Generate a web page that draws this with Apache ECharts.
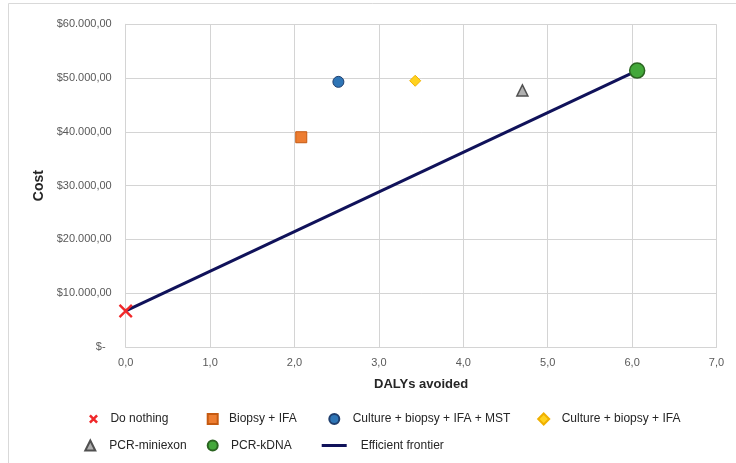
<!DOCTYPE html>
<html>
<head>
<meta charset="utf-8">
<script src="https://cdn.jsdelivr.net/npm/echarts@6/dist/echarts.min.js"></script>
<style>
  html, body { margin: 0; padding: 0; background: #fff; }
  #chart { width: 736px; height: 463px; }
</style>
</head>
<body>
<div id="chart"></div>
<script>
// Strategy points: [DALYs avoided, cost]
var doNothing      = [[0.00, 6700]];
var biopsyIFA      = [[2.08, 39000]];
var cultureMST     = [[2.52, 49300]];
var cultureIFA     = [[3.43, 49500]];
var pcrMiniexon    = [[4.70, 47700]];
var pcrKDNA        = [[6.06, 51400]];

// Frontier joins the non-dominated strategies
var frontier = [doNothing[0], pcrKDNA[0]];

var xTicks = { min: 0, max: 7, interval: 1 };
var yTicks = { min: 0, max: 60000, interval: 10000 };

var FONT = '"Liberation Sans", Arial, sans-serif';
var xPath = 'path://M0,1.2L1.2,0L10,8.8L8.8,10Z M8.8,0L10,1.2L1.2,10L0,8.8Z';
var xPathBold = 'path://M0,2L2,0L10,8L8,10Z M8,0L10,2L2,10L0,8Z';

function money(v) {
  if (v === 0) return '$-  ';
  var s = String(Math.round(v));
  s = s.replace(/\B(?=(\d{3})+(?!\d))/g, '.');
  return '$' + s + ',00';
}

// One legend block per entry so each sits at its own spot in the two-row key
function legendAt(name, left, top, icon, w, h, gap) {
  return {
    data: [{ name: name, icon: icon }],
    left: left, top: top,
    padding: 0,
    itemWidth: w, itemHeight: h,
    selectedMode: false,
    textStyle: { fontFamily: FONT, fontSize: 12, color: '#262626', padding: [0, 0, 0, gap] }
  };
}

var chart = echarts.init(document.getElementById('chart'), null, { renderer: 'canvas' });

chart.setOption({
  animation: false,
  backgroundColor: '#fff',
  graphic: [{
    type: 'rect',
    shape: { x: 8.5, y: 3.5, width: 800, height: 600 },
    style: { fill: 'none', stroke: '#d9d9d9', lineWidth: 1 },
    silent: true
  }],
  grid: { left: 125.7, top: 24.3, right: 19.5, bottom: 116, show: false },
  xAxis: {
    type: 'value',
    min: xTicks.min, max: xTicks.max, interval: xTicks.interval,
    name: 'DALYs avoided',
    nameLocation: 'middle',
    nameGap: 31,
    nameTextStyle: { fontFamily: FONT, fontSize: 13, fontWeight: 'bold', color: '#262626' },
    axisLine: { show: true, lineStyle: { color: '#d4d4d4', width: 1 } },
    axisTick: { show: false },
    splitLine: { show: true, lineStyle: { color: '#d4d4d4', width: 1 } },
    axisLabel: {
      fontFamily: FONT, fontSize: 11, color: '#595959', margin: 10,
      formatter: function (v) { return v.toFixed(1).replace('.', ','); }
    }
  },
  yAxis: {
    type: 'value',
    min: yTicks.min, max: yTicks.max, interval: yTicks.interval,
    name: 'Cost',
    nameLocation: 'middle',
    nameGap: 72,
    nameTextStyle: { fontFamily: FONT, fontSize: 14, fontWeight: 'bold', color: '#262626' },
    axisLine: { show: true, lineStyle: { color: '#d4d4d4', width: 1 } },
    axisTick: { show: false },
    splitLine: { show: true, lineStyle: { color: '#d4d4d4', width: 1 } },
    axisLabel: {
      fontFamily: FONT, fontSize: 11, color: '#595959', margin: 14,
      formatter: money
    }
  },
  legend: [
    legendAt('Do nothing', 89, 413, xPathBold, 9, 9, 7.4),
    legendAt('Biopsy + IFA', 206.7, 413, 'rect', 10, 10, 6.3),
    legendAt('Culture + biopsy + IFA + MST', 328.3, 413, 'circle', 10, 10, 8.4),
    legendAt('Culture + biopsy + IFA', 537.2, 412.5, 'diamond', 11, 11, 7.5),
    legendAt('PCR-miniexon', 84.3, 439.5, 'triangle', 10, 10, 9),
    legendAt('PCR-kDNA', 206.7, 439.5, 'circle', 10, 10, 8.3),
    legendAt('Efficient frontier', 321.7, 439.5, 'rect', 25, 3, 9)
  ],
  series: [
    {
      name: 'Efficient frontier',
      type: 'line',
      data: frontier,
      symbol: 'none',
      lineStyle: { color: '#10125a', width: 3 },
      itemStyle: { color: '#10125a' },
      z: 2
    },
    {
      name: 'Do nothing', type: 'scatter', data: doNothing,
      symbol: xPath, symbolSize: 14,
      itemStyle: { color: '#f0282a', opacity: 1 }, z: 3
    },
    {
      name: 'Biopsy + IFA', type: 'scatter', data: biopsyIFA,
      symbol: 'rect', symbolSize: 11,
      itemStyle: { color: '#ed7d31', borderColor: '#c55a11', borderWidth: 1, opacity: 1 }, z: 3
    },
    {
      name: 'Culture + biopsy + IFA + MST', type: 'scatter', data: cultureMST,
      symbol: 'circle', symbolSize: 11,
      itemStyle: { color: '#2e75b6', borderColor: '#1f3f6e', borderWidth: 1, opacity: 1 }, z: 3
    },
    {
      name: 'Culture + biopsy + IFA', type: 'scatter', data: cultureIFA,
      symbol: 'diamond', symbolSize: 11,
      itemStyle: { color: '#ffd21f', borderColor: '#f0b000', borderWidth: 1, opacity: 1 }, z: 3
    },
    {
      name: 'PCR-miniexon', type: 'scatter', data: pcrMiniexon,
      symbol: 'triangle', symbolSize: 11,
      itemStyle: { color: '#b0b0b0', borderColor: '#505050', borderWidth: 1.5, opacity: 1 }, z: 3
    },
    {
      name: 'PCR-kDNA', type: 'scatter', data: pcrKDNA,
      symbol: 'circle', symbolSize: 15,
      itemStyle: { color: '#43a83a', borderColor: '#2a6420', borderWidth: 1.5, opacity: 1 }, z: 4
    }
  ]
});
</script>
</body>
</html>
